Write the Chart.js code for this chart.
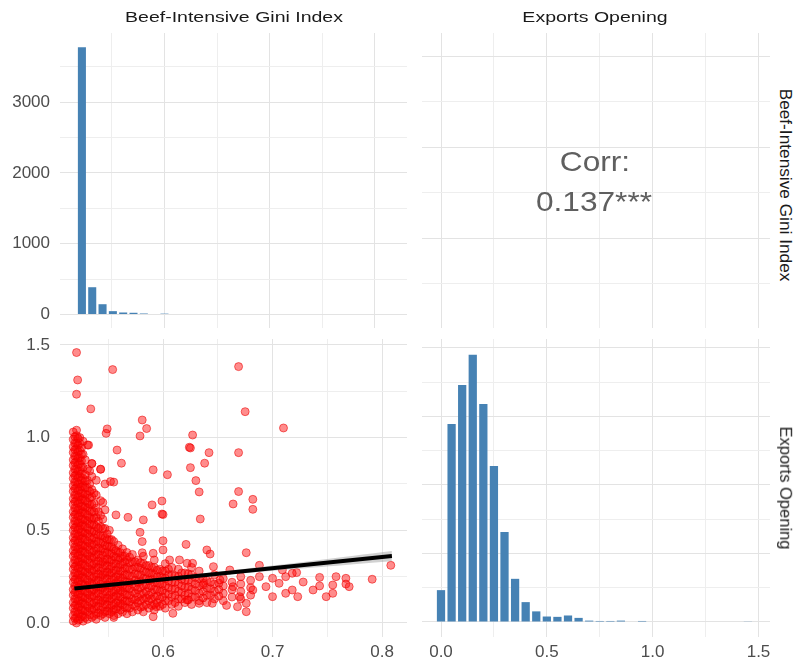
<!DOCTYPE html>
<html>
<head>
<meta charset="utf-8">
<script src="https://cdn.jsdelivr.net/npm/chart.js@4.4.1/dist/chart.umd.min.js"></script>
<style>
html,body{margin:0;padding:0;background:#fff;overflow:hidden}
#wrap{position:relative;width:797px;height:662px;background:#fff;overflow:hidden;font-family:'Liberation Sans',Arial,Helvetica,sans-serif}
canvas{position:absolute}
.lbl{position:absolute;white-space:nowrap;line-height:1;color:#1a1a1a;font-size:15px}
.corr{position:absolute;white-space:nowrap;line-height:1;color:#5f5f5f;font-size:28px}
</style>
</head>
<body>
<div id="wrap">
  <canvas id="cTL"></canvas>
  <canvas id="cTR"></canvas>
  <canvas id="cBL"></canvas>
  <canvas id="cBR"></canvas>
  <div class="lbl" style="left:233.5px;top:16px;transform:translate(-50%,-50%) scale(1.3,1)">Beef-Intensive Gini Index</div>
  <div class="lbl" style="left:595px;top:16px;transform:translate(-50%,-50%) scale(1.3,1)">Exports Opening</div>
  <div class="lbl" style="left:786px;top:185px;transform:translate(-50%,-50%) rotate(90deg) scale(1.15,1.08)">Beef-Intensive Gini Index</div>
  <div class="lbl" style="left:786px;top:488px;transform:translate(-50%,-50%) rotate(90deg) scale(1.1,1.08)">Exports Opening</div>
  <div class="corr" style="left:595px;top:162px;transform:translate(-50%,-50%) scale(1.13,1)">Corr:</div>
  <div class="corr" style="left:594px;top:202px;transform:translate(-50%,-50%) scale(1.13,1)">0.137***</div>
</div>
<script>
// ---------------- DATA ----------------
// Histogram of Beef-Intensive Gini Index (bin centres, counts)
const giniBins = [0.5217,0.5315,0.5413,0.5511,0.5609,0.5707,0.5805,0.5903,0.6001,0.6099,
                  0.6197,0.6295,0.6393,0.6491,0.6589,0.6687,0.6785,0.6883,0.6981,0.7079,
                  0.7177,0.7275,0.7373,0.7471,0.7569,0.7667,0.7765,0.7863,0.7961,0.8059];
const giniCounts = [3775,385,145,47,28,24,14,0,12,0,
                    0,0,0,0,0,0,0,0,0,0,
                    0,0,0,0,0,0,0,0,0,0];

// Histogram of Exports Opening (bin centres, counts)
const exportBins = [0.00,0.05,0.10,0.15,0.20,0.25,0.30,0.35,0.40,0.45,
                    0.50,0.55,0.60,0.65,0.70,0.75,0.80,0.85,0.90,0.95,
                    1.00,1.05,1.10,1.15,1.20,1.25,1.30,1.35,1.40,1.45];
const exportCounts = [93,578,692,780,636,455,263,126,58,31,
                      16,15,19,12,4,3,3,4,0,3,
                      0,0,0,0,0,0,0,0,0,1];

// Scatter: dense body, read column by column (gini value, exports values)
const scatterColumns = [
 [0.518,[0.01,0.04,0.08,0.11,0.15,0.18,0.22,0.25,0.29,0.32,0.36,0.39,0.43,0.46,0.50,0.53,0.57,0.60,0.64,0.67,0.71,0.74,0.78,0.81,0.85,0.88,0.92,0.95,0.99,1.03]],
 [0.521,[0.00,0.03,0.06,0.10,0.13,0.17,0.20,0.24,0.27,0.31,0.34,0.38,0.41,0.45,0.48,0.52,0.55,0.59,0.62,0.66,0.69,0.73,0.76,0.80,0.83,0.87,0.90,0.94,0.97,1.01,1.04]],
 [0.524,[0.02,0.05,0.09,0.12,0.16,0.19,0.23,0.26,0.30,0.33,0.37,0.40,0.44,0.47,0.51,0.54,0.58,0.61,0.65,0.68,0.72,0.75,0.79,0.82,0.86,0.89,0.93,0.97,1.00]],
 [0.527,[0.01,0.04,0.07,0.11,0.14,0.18,0.21,0.25,0.28,0.32,0.35,0.39,0.42,0.46,0.49,0.53,0.56,0.60,0.63,0.67,0.70,0.74,0.78,0.84,0.91,0.98]],
 [0.531,[0.02,0.06,0.09,0.13,0.16,0.20,0.23,0.27,0.30,0.34,0.37,0.41,0.44,0.48,0.51,0.55,0.58,0.62,0.65,0.69,0.73,0.77,0.83,0.96]],
 [0.535,[0.03,0.07,0.10,0.14,0.17,0.21,0.24,0.28,0.31,0.35,0.38,0.42,0.45,0.49,0.53,0.56,0.60,0.64,0.68,0.72,0.79,0.86]],
 [0.539,[0.02,0.05,0.09,0.12,0.16,0.19,0.23,0.26,0.30,0.33,0.37,0.40,0.44,0.48,0.52,0.57,0.62,0.69,0.77]],
 [0.543,[0.04,0.07,0.11,0.14,0.18,0.21,0.25,0.28,0.32,0.35,0.39,0.43,0.47,0.52,0.58,0.66,0.83]],
 [0.547,[0.03,0.06,0.10,0.13,0.17,0.20,0.24,0.27,0.31,0.34,0.38,0.42,0.46,0.51,0.61,0.75]],
 [0.551,[0.05,0.08,0.12,0.15,0.19,0.22,0.26,0.29,0.33,0.37,0.41,0.45,0.50]],
 [0.555,[0.03,0.07,0.10,0.14,0.17,0.21,0.24,0.28,0.32,0.36,0.40,0.44,0.76]],
 [0.559,[0.05,0.09,0.12,0.16,0.19,0.23,0.26,0.30,0.34,0.38,0.42]],
 [0.563,[0.06,0.10,0.13,0.17,0.20,0.24,0.28,0.32,0.36,0.40]],
 [0.567,[0.05,0.08,0.12,0.15,0.19,0.22,0.26,0.30,0.34,0.38]],
 [0.572,[0.06,0.10,0.13,0.17,0.21,0.25,0.29,0.33,0.37]],
 [0.577,[0.07,0.11,0.14,0.18,0.22,0.26,0.30,0.34]],
 [0.582,[0.06,0.09,0.13,0.16,0.20,0.24,0.28,0.32,0.36]],
 [0.587,[0.08,0.12,0.15,0.19,0.23,0.27,0.31]],
 [0.592,[0.07,0.10,0.14,0.18,0.22,0.26,0.30,0.34]],
 [0.597,[0.09,0.13,0.17,0.21,0.25,0.29]],
 [0.602,[0.08,0.12,0.16,0.20,0.24,0.28,0.32]],
 [0.608,[0.10,0.14,0.18,0.22,0.26,0.30]],
 [0.614,[0.09,0.13,0.17,0.21,0.25,0.29]],
 [0.620,[0.11,0.15,0.19,0.23,0.27]],
 [0.626,[0.10,0.14,0.18,0.22,0.26,0.30]],
 [0.633,[0.12,0.16,0.20,0.24,0.28]],
 [0.640,[0.11,0.15,0.19,0.23]],
 [0.647,[0.13,0.17,0.21,0.26]],
 [0.655,[0.12,0.16,0.20,0.24]],
 [0.663,[0.14,0.18,0.22]],
 [0.671,[0.13,0.17,0.21,0.25]],
 [0.680,[0.15,0.19,0.23]],
 [0.5195,[0.025,0.06,0.095,0.13,0.165,0.20,0.235,0.27,0.305,0.34,0.375,0.41,0.445,0.48,0.515,0.55,0.585,0.62,0.655,0.69,0.725,0.76,0.795,0.83,0.865,0.90,0.935,0.97,1.005]],
 [0.5225,[0.015,0.05,0.085,0.12,0.155,0.19,0.225,0.26,0.295,0.33,0.365,0.40,0.435,0.47,0.505,0.54,0.575,0.61,0.645,0.68,0.715,0.75,0.785,0.82,0.855,0.89,0.925,0.96,0.995]],
 [0.5255,[0.035,0.07,0.105,0.14,0.175,0.21,0.245,0.28,0.315,0.35,0.385,0.42,0.455,0.49,0.525,0.56,0.595,0.63,0.665,0.70,0.735,0.77,0.805,0.84,0.875,0.91,0.945]],
 [0.529,[0.03,0.065,0.10,0.135,0.17,0.205,0.24,0.275,0.31,0.345,0.38,0.415,0.45,0.485,0.52,0.555,0.59,0.625,0.66,0.695,0.73,0.765,0.80,0.88]],
 [0.533,[0.045,0.08,0.115,0.15,0.185,0.22,0.255,0.29,0.325,0.36,0.395,0.43,0.465,0.50,0.535,0.57,0.605,0.64,0.675,0.71,0.75,0.82]],
 [0.537,[0.04,0.075,0.11,0.145,0.18,0.215,0.25,0.285,0.32,0.355,0.39,0.425,0.46,0.495,0.53,0.565,0.60,0.645,0.70]],
 [0.541,[0.055,0.09,0.125,0.16,0.195,0.23,0.265,0.30,0.335,0.37,0.405,0.44,0.475,0.51,0.55,0.60]],
 [0.545,[0.05,0.085,0.12,0.155,0.19,0.225,0.26,0.295,0.33,0.365,0.40,0.435,0.47,0.51,0.56]],
 [0.549,[0.065,0.10,0.135,0.17,0.205,0.24,0.275,0.31,0.345,0.38,0.415,0.45,0.48]],
 [0.553,[0.06,0.095,0.13,0.165,0.20,0.235,0.27,0.305,0.34,0.375,0.41,0.45]],
 [0.557,[0.075,0.11,0.145,0.18,0.215,0.25,0.285,0.32,0.355,0.39]],
 [0.561,[0.07,0.105,0.14,0.175,0.21,0.245,0.28,0.315,0.35,0.38]],
 [0.565,[0.085,0.12,0.155,0.19,0.225,0.26,0.295,0.33,0.36]],
 [0.5695,[0.08,0.115,0.15,0.185,0.22,0.255,0.29,0.325,0.355]],
 [0.5745,[0.09,0.125,0.16,0.195,0.23,0.265,0.30,0.33]],
 [0.5795,[0.085,0.12,0.155,0.19,0.225,0.26,0.295,0.325]],
 [0.5845,[0.10,0.135,0.17,0.205,0.24,0.275,0.31]],
 [0.5895,[0.095,0.13,0.165,0.20,0.235,0.27,0.30]],
 [0.5945,[0.11,0.145,0.18,0.215,0.25,0.285]],
 [0.5995,[0.10,0.14,0.175,0.21,0.245,0.28]],
 [0.605,[0.12,0.155,0.19,0.225,0.26,0.29]],
 [0.611,[0.11,0.15,0.185,0.22,0.255]],
 [0.617,[0.13,0.165,0.20,0.235,0.27]],
 [0.623,[0.125,0.16,0.195,0.23,0.265]],
 [0.6295,[0.14,0.175,0.21,0.245]],
 [0.6365,[0.135,0.17,0.205,0.24]],
 [0.6435,[0.15,0.185,0.22]],
 [0.651,[0.145,0.18,0.215]]
];

// Scatter: individual outlying points (gini, exports)
const scatterOutliers = [
 [0.521,1.459],[0.522,1.311],[0.521,1.234],[0.534,1.155],[0.554,1.367],[0.549,1.047],[0.548,1.023],
 [0.581,1.095],[0.585,1.049],[0.579,1.009],[0.558,0.933],[0.562,0.862],[0.591,0.826],[0.604,0.800],
 [0.624,0.948],[0.625,0.944],[0.627,1.014],[0.625,0.838],[0.630,0.768],[0.633,0.707],[0.638,0.862],
 [0.642,0.919],[0.669,1.383],[0.675,1.140],[0.669,0.919],[0.710,1.052],[0.669,0.709],[0.664,0.642],
 [0.682,0.667],[0.682,0.613],[0.634,0.561],[0.599,0.658],[0.599,0.588],[0.600,0.585],[0.590,0.637],
 [0.582,0.556],[0.579,0.489],[0.581,0.439],[0.600,0.444],[0.568,0.570],[0.557,0.583],[0.621,0.424],
 [0.676,0.379],[0.808,0.311],[0.791,0.236],[0.767,0.241],[0.767,0.210],[0.755,0.205],[0.743,0.246],
 [0.743,0.200],[0.737,0.178],[0.728,0.221],[0.722,0.272],[0.718,0.178],[0.712,0.160],[0.723,0.142],
 [0.706,0.214],[0.700,0.142],[0.694,0.196],[0.688,0.311],[0.682,0.178],[0.676,0.106],[0.676,0.061],
 [0.668,0.088],[0.658,0.095],[0.661,0.286],[0.652,0.232],[0.646,0.304],[0.637,0.214],[0.645,0.106],
 [0.633,0.106],[0.622,0.124],[0.609,0.052],[0.591,0.034],[0.594,0.088],[0.555,0.040],[0.622,0.322],
 [0.615,0.340],[0.606,0.340],[0.600,0.394],[0.591,0.376],[0.581,0.379],[0.627,0.322],[0.640,0.394],
 [0.643,0.372],[0.755,0.160],[0.749,0.142],[0.758,0.250],[0.770,0.196],[0.700,0.241],[0.688,0.250],
 [0.664,0.196],[0.670,0.142],[0.712,0.250],[0.709,0.286],[0.718,0.268],[0.532,0.960],[0.535,0.860],
 [0.543,0.829],[0.552,0.763],[0.545,0.650]
];

// Linear fit (gini -> exports) with its confidence band
const fitGini  = [0.519, 0.809];
const fitExports = [0.186, 0.361];
const bandGini  = [0.519, 0.560, 0.680, 0.809];
const bandUpper = [0.193, 0.215, 0.296, 0.389];
const bandLower = [0.179, 0.207, 0.271, 0.333];

// Tick steps
const giniTickStep = 0.05;
const exportTickStep = 0.25;
const giniCountStep = 500;
const exportCountStep = 100;

// ---------------- LAYOUT ----------------
const FONT = "'Liberation Sans', Arial, Helvetica, sans-serif";
Chart.defaults.font.family = FONT;
const PANELS = {
  tl: {L:60,  T:33,  R:407, B:328},
  tr: {L:422, T:33,  R:770, B:328},
  bl: {L:60,  T:339, R:407, B:637},
  br: {L:422, T:339, R:770, B:637}
};
const Y_W = 60, X_H = 25;
const GRID_MAJOR = '#e3e3e3', GRID_MINOR = '#eeeeee';
const TICK_COLOR = '#4d4d4d';

function placeCanvas(id, p, yW, xH, pad) {
  const c = document.getElementById(id);
  const left = p.L - yW - pad.left;
  const top = p.T - pad.top;
  const w = p.R + pad.right - left;
  const h = p.B + xH + pad.bottom - top;
  c.width = w; c.height = h;
  c.style.left = left + 'px'; c.style.top = top + 'px';
  c.style.width = w + 'px'; c.style.height = h + 'px';
  return c;
}

const isMult = (v, m) => Math.abs(Math.round(v / m) * m - v) < 1e-6;

function axis(o) {
  return {
    type: 'linear', min: o.min, max: o.max, offset: false, position: o.position,
    border: {display: false},
    grid: {
      offset: false, drawTicks: false, lineWidth: 1,
      color: ctx => (ctx.tick && isMult(ctx.tick.value, o.major)) ? GRID_MAJOR : GRID_MINOR
    },
    ticks: {
      display: !!o.show, stepSize: o.step, includeBounds: false, autoSkip: false,
      maxRotation: 0, minRotation: 0, padding: o.padding || 0, color: TICK_COLOR,
      font: {size: 17, family: FONT},
      callback: v => isMult(v, o.major) ? o.fmt(v) : ''
    },
    // tick positions: every multiple of the step inside [min, max]
    afterBuildTicks: s => {
      const t = [];
      for (let k = Math.ceil(o.min / o.step - 1e-9); k * o.step <= o.max + 1e-9; k++) {
        t.push({value: Math.round(k * o.step * 1e6) / 1e6});
      }
      s.ticks = t;
    },
    afterFit: s => { if (s.isHorizontal()) s.height = o.size; else s.width = o.size; }
  };
}

const common = {
  responsive: false, animation: false, devicePixelRatio: 1,
  plugins: {legend: {display: false}, tooltip: {enabled: false}}
};

// ---- Top-left: histogram of Gini ----
(function () {
  const pad = {left: 0, top: 24, right: 10, bottom: 24};
  const c = placeCanvas('cTL', PANELS.tl, Y_W, 0, pad);
  new Chart(c, {
    type: 'scatter',
    data: {datasets: [{
      type: 'bar',
      data: giniBins.map((b, i) => ({x: b, y: giniCounts[i]})),
      backgroundColor: '#4682B4', borderWidth: 0,
      barPercentage: 0.78, categoryPercentage: 1.0
    }]},
    options: Object.assign({}, common, {
      layout: {padding: pad},
      scales: {
        x: axis({position: 'bottom', min: 0.5009, max: 0.8304, step: giniTickStep, major: 0.1, show: false, size: 0, fmt: v => v.toFixed(1)}),
        y: axis({position: 'left', min: -191, max: 3976, step: giniCountStep, major: 1000, show: true, size: Y_W, padding: 10, fmt: v => String(Math.round(v))})
      }
    })
  });
})();

// ---- Top-right: correlation panel (grid only) ----
(function () {
  const pad = {left: 0, top: 0, right: 0, bottom: 0};
  const c = placeCanvas('cTR', PANELS.tr, 0, 0, pad);
  new Chart(c, {
    type: 'scatter',
    data: {datasets: []},
    options: Object.assign({}, common, {
      layout: {padding: pad},
      scales: {
        x: axis({position: 'bottom', min: -0.0898, max: 1.5543, step: exportTickStep, major: 0.5, show: false, size: 0, fmt: v => v.toFixed(1)}),
        y: axis({position: 'left', min: 0.501, max: 0.826, step: giniTickStep, major: 0.1, show: false, size: 0, fmt: v => v.toFixed(1)})
      }
    })
  });
})();

// ---- Bottom-left: scatter with linear fit ----
(function () {
  const pad = {left: 0, top: 24, right: 10, bottom: 0};
  const c = placeCanvas('cBL', PANELS.bl, Y_W, X_H, pad);
  const pts = [];
  scatterColumns.forEach(col => col[1].forEach(y => pts.push({x: col[0], y: y})));
  scatterOutliers.forEach(p => pts.push({x: p[0], y: p[1]}));
  new Chart(c, {
    type: 'scatter',
    data: {datasets: [
      {type: 'line', data: fitGini.map((g, i) => ({x: g, y: fitExports[i]})),
       borderColor: '#000000', borderWidth: 4, pointRadius: 0, fill: false, tension: 0},
      {type: 'line', data: bandGini.map((g, i) => ({x: g, y: bandUpper[i]})),
       borderColor: 'rgba(0,0,0,0)', borderWidth: 0, pointRadius: 0, tension: 0.4,
       fill: '+1', backgroundColor: 'rgba(153,153,153,0.45)'},
      {type: 'line', data: bandGini.map((g, i) => ({x: g, y: bandLower[i]})),
       borderColor: 'rgba(0,0,0,0)', borderWidth: 0, pointRadius: 0, tension: 0.4, fill: false},
      {data: pts, pointRadius: 4, pointBorderWidth: 1,
       backgroundColor: 'rgba(255,0,0,0.45)', borderColor: 'rgba(235,0,0,0.55)'}
    ]},
    options: Object.assign({}, common, {
      layout: {padding: pad},
      scales: {
        x: axis({position: 'bottom', min: 0.5059, max: 0.8228, step: giniTickStep, major: 0.1, show: true, size: X_H, padding: 5, fmt: v => v.toFixed(1)}),
        y: axis({position: 'left', min: -0.0756, max: 1.532, step: exportTickStep, major: 0.5, show: true, size: Y_W, padding: 10, fmt: v => v.toFixed(1)})
      }
    })
  });
})();

// ---- Bottom-right: histogram of Exports Opening ----
(function () {
  const pad = {left: 0, top: 4, right: 27, bottom: 0};
  const c = placeCanvas('cBR', PANELS.br, 0, X_H, pad);
  new Chart(c, {
    type: 'bar',
    data: {datasets: [{
      data: exportBins.map((b, i) => ({x: b, y: exportCounts[i]})),
      backgroundColor: '#4682B4', borderWidth: 0,
      barPercentage: 0.78, categoryPercentage: 1.0
    }]},
    options: Object.assign({}, common, {
      layout: {padding: pad},
      scales: {
        x: axis({position: 'bottom', min: -0.0898, max: 1.5543, step: exportTickStep, major: 0.5, show: true, size: X_H, padding: 5, fmt: v => v.toFixed(1)}),
        y: axis({position: 'left', min: -43.8, max: 826, step: exportCountStep, major: 200, show: false, size: 0, fmt: v => String(v)})
      }
    })
  });
})();
</script>
</body>
</html>
